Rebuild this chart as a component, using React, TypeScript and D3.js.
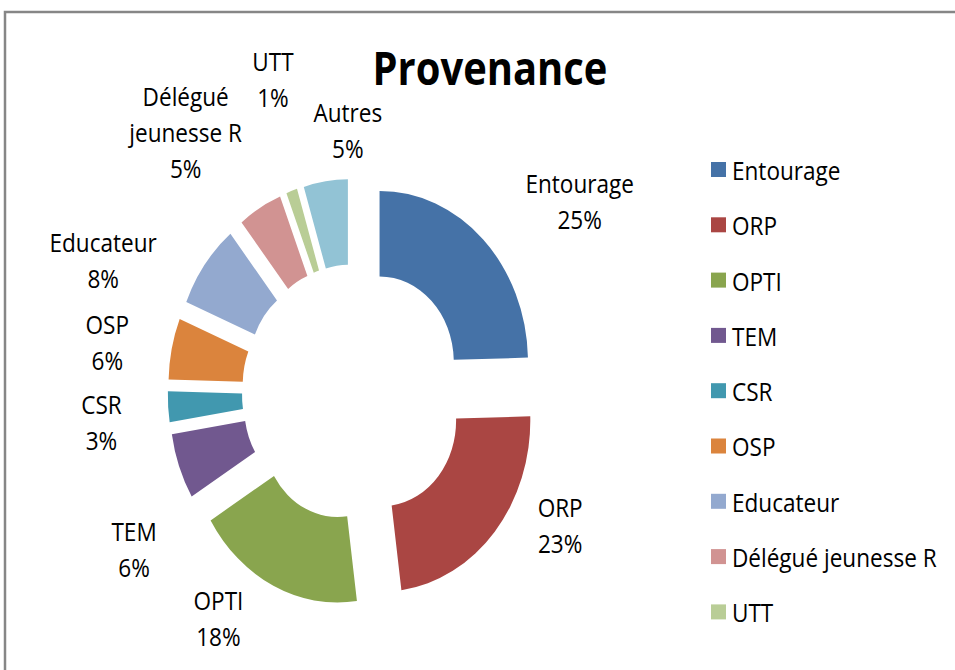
import { useEffect, useRef } from "react";
import * as d3 from "d3";

const categories = ["Entourage", "ORP", "OPTI", "TEM", "CSR", "OSP", "Educateur", "Délégué jeunesse R", "UTT", "Autres"];
const values = [24.6, 23.3, 18.4, 6.2, 2.9, 5.8, 8.0, 4.8, 1.2, 4.8];
const colors = ["#4572A7", "#AA4643", "#89A54E", "#71588F", "#4198AF", "#DB843D", "#93A9CF", "#D19392", "#B9CD96", "#92C3D5"];
// where the data labels sit: turn from the slice's mid angle (deg) and distance from the centre
const labelTurn = [9.5, -11.2, 8.9, -11.8, -2.2, -1.9, -12.2, -6.4, 2.9, 7.2];
const labelDist = [323, 273, 275, 298, 292, 288, 317, 324, 326, 262];
const legendCount = 9; // "Autres" falls off the bottom of the legend

const App = () => {
    const chartRef = useRef<SVGSVGElement>(null);

    useEffect(() => {
        const W = 955, H = 670;
        const sx = 0.868; // the whole picture is squeezed horizontally
        const font = "'Open Sans', sans-serif";

        const svg = d3.select(chartRef.current).attr("width", W).attr("height", H);
        svg.selectAll("*").remove();

        svg.append("rect")
            .attr("x", 5).attr("y", 12)
            .attr("width", 990).attr("height", 720)
            .attr("fill", "white")
            .attr("stroke", "#868686")
            .attr("stroke-width", 2.5);

        const root = svg.append("g").attr("transform", `scale(${sx},1)`);

        const cx = 353.5 / sx, cy = 392.7;
        const outer = 171, inner = 85.5, explode = 43;

        const arcs = d3.pie<number>().sort(null).value(d => d)(values);
        const arc = d3.arc<d3.PieArcDatum<number>>().innerRadius(inner).outerRadius(outer);

        const g = root.append("g").attr("transform", `translate(${cx},${cy})`);

        g.selectAll("path.slice")
            .data(arcs)
            .enter()
            .append("path")
            .attr("class", "slice")
            .attr("d", arc)
            .attr("fill", (d, i) => colors[i])
            .attr("transform", d => {
                const a = (d.startAngle + d.endAngle) / 2;
                return `translate(${explode * Math.sin(a)},${-explode * Math.cos(a)})`;
            });

        const total = d3.sum(values);
        const lineH = 36;
        arcs.forEach((d, i) => {
            const a = (d.startAngle + d.endAngle) / 2 + labelTurn[i] * Math.PI / 180;
            const lx = labelDist[i] * Math.sin(a);
            const ly = -labelDist[i] * Math.cos(a);
            const name = categories[i];
            const sp = name.indexOf(" ");
            const lines = name.length > 12 && sp > 0 ? [name.slice(0, sp), name.slice(sp + 1)] : [name];
            lines.push(Math.round(values[i] / total * 100) + "%");
            const first = ly - (lines.length - 1) * lineH / 2 + 9;
            const t = g.append("text")
                .attr("text-anchor", "middle")
                .style("font-family", font)
                .style("font-size", "26px")
                .attr("fill", "#000");
            lines.forEach((s, k) => {
                t.append("tspan").attr("x", lx).attr("y", first + k * lineH).text(s);
            });
        });

        root.append("text")
            .attr("x", 490 / sx)
            .attr("y", 85)
            .attr("text-anchor", "middle")
            .style("font-family", font)
            .style("font-size", "46px")
            .style("font-weight", "bold")
            .attr("fill", "#000")
            .text("Provenance");

        const legend = root.append("g");
        const legendX = 711 / sx;
        const rowH = 55.3;
        categories.slice(0, legendCount).forEach((c, i) => {
            const base = 180 + i * rowH;
            legend.append("rect")
                .attr("x", legendX)
                .attr("y", base - 18)
                .attr("width", 15 / sx)
                .attr("height", 15)
                .attr("fill", colors[i]);
            legend.append("text")
                .attr("x", 732 / sx)
                .attr("y", base)
                .style("font-family", font)
                .style("font-size", "26px")
                .attr("fill", "#000")
                .text(c);
        });

        return () => {
            d3.select(chartRef.current).selectAll("*").remove();
        };
    }, []);

    return <svg ref={chartRef} style={{ position: "absolute", left: 0, top: 0, background: "white" }}></svg>;
};

export default App;
